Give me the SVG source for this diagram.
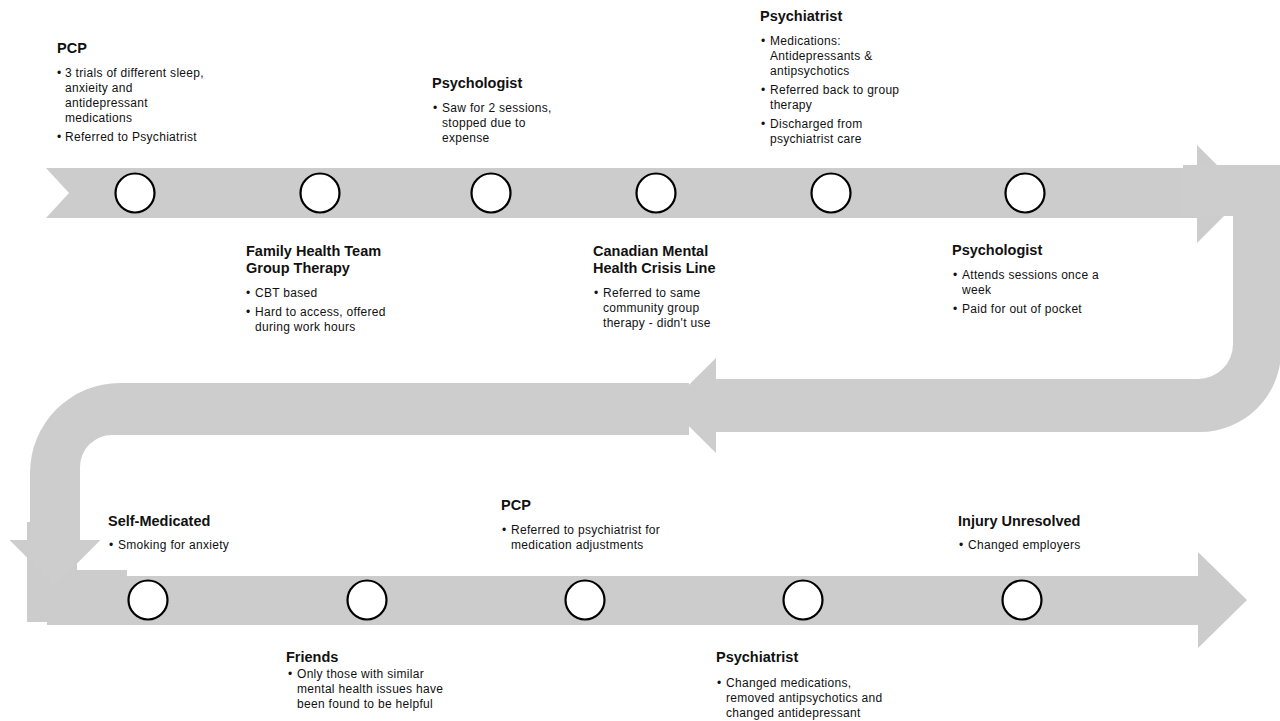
<svg xmlns="http://www.w3.org/2000/svg" width="1280" height="721" viewBox="0 0 1280 721">
  <style>
    .band { fill: #cccccc; }
    .turn { fill: #cecdce; }
    .dot { fill: #ffffff; stroke: #000000; stroke-width: 2.2; }
    .ttl { font-family: "Liberation Sans", Arial, sans-serif; font-size: 14.5px; font-weight: bold; fill: #111111; }
    .txt { font-family: "Liberation Sans", Arial, sans-serif; font-size: 12px; letter-spacing: 0.3px; fill: #111111; }
  </style>
  <rect width="1280" height="721" fill="#ffffff"/>

  <!-- timeline bands (connectors between events) -->
  <g id="connectors">
    <polygon class="band" points="46,168 1197,168 1197,145 1246,194 1197,243 1197,218 46,218 69,193"/>
    <path class="turn" d="M1183,165 H1281 V351 A81,81 0 0 1 1200,432 H716 V453 L668,405.5 L716,358 V379 H1198 A35,35 0 0 0 1233,344 V216 H1183 Z"/>
    <path class="band" d="M27,522 H77 V570 H127 V576 H1198 V552 L1247,600 L1198,648 V625 H47 V622 H27 Z"/>
    <path class="turn" d="M689,383 H120 A90,90 0 0 0 30,473 V540 H9.5 L55,585.5 L100.5,540 H80 V467 A32,32 0 0 1 112,435 H689 Z"/>
  </g>

  <!-- top row events -->
  <g id="pcp-1">
    <circle class="dot" cx="135" cy="193" r="19.5"/>
    <text class="ttl" x="57" y="53">PCP</text>
    <text class="txt"><tspan x="57" y="77">•</tspan><tspan x="65" y="77">3 trials of different sleep,</tspan><tspan x="65" y="92">anxieity and</tspan><tspan x="65" y="107">antidepressant</tspan><tspan x="65" y="122">medications</tspan><tspan x="57" y="141">•</tspan><tspan x="65" y="141">Referred to Psychiatrist</tspan></text>
  </g>

  <g id="family-health-team">
    <circle class="dot" cx="320" cy="193" r="19.5"/>
    <text class="ttl"><tspan x="246" y="256">Family Health Team</tspan><tspan x="246" y="273">Group Therapy</tspan></text>
    <text class="txt"><tspan x="246" y="297">•</tspan><tspan x="255" y="297">CBT based</tspan><tspan x="246" y="316">•</tspan><tspan x="255" y="316">Hard to access, offered</tspan><tspan x="255" y="331">during work hours</tspan></text>
  </g>

  <g id="psychologist-1">
    <circle class="dot" cx="491" cy="193" r="19.5"/>
    <text class="ttl" x="432" y="88">Psychologist</text>
    <text class="txt"><tspan x="433" y="112">•</tspan><tspan x="442" y="112">Saw for 2 sessions,</tspan><tspan x="442" y="127">stopped due to</tspan><tspan x="442" y="142">expense</tspan></text>
  </g>

  <g id="crisis-line">
    <circle class="dot" cx="656" cy="193" r="19.5"/>
    <text class="ttl"><tspan x="593" y="256">Canadian Mental</tspan><tspan x="593" y="273">Health Crisis Line</tspan></text>
    <text class="txt"><tspan x="594" y="297">•</tspan><tspan x="603" y="297">Referred to same</tspan><tspan x="603" y="312">community group</tspan><tspan x="603" y="327">therapy - didn't use</tspan></text>
  </g>

  <g id="psychiatrist-1">
    <circle class="dot" cx="831" cy="193" r="19.5"/>
    <text class="ttl" x="760" y="21">Psychiatrist</text>
    <text class="txt"><tspan x="761" y="45">•</tspan><tspan x="770" y="45">Medications:</tspan><tspan x="770" y="60">Antidepressants &amp;</tspan><tspan x="770" y="75">antipsychotics</tspan><tspan x="761" y="94">•</tspan><tspan x="770" y="94">Referred back to group</tspan><tspan x="770" y="109">therapy</tspan><tspan x="761" y="128">•</tspan><tspan x="770" y="128">Discharged from</tspan><tspan x="770" y="143">psychiatrist care</tspan></text>
  </g>

  <g id="psychologist-2">
    <circle class="dot" cx="1025" cy="193" r="19.5"/>
    <text class="ttl" x="952" y="255">Psychologist</text>
    <text class="txt"><tspan x="953" y="279">•</tspan><tspan x="962" y="279">Attends sessions once a</tspan><tspan x="962" y="294">week</tspan><tspan x="953" y="313">•</tspan><tspan x="962" y="313">Paid for out of pocket</tspan></text>
  </g>

  <!-- bottom row events -->
  <g id="self-medicated">
    <circle class="dot" cx="148" cy="600" r="19.5"/>
    <text class="ttl" x="108" y="526">Self-Medicated</text>
    <text class="txt"><tspan x="109" y="549">•</tspan><tspan x="118" y="549">Smoking for anxiety</tspan></text>
  </g>

  <g id="friends">
    <circle class="dot" cx="367" cy="600" r="19.5"/>
    <text class="ttl" x="286" y="662">Friends</text>
    <text class="txt"><tspan x="288" y="678">•</tspan><tspan x="297" y="678">Only those with similar</tspan><tspan x="297" y="693">mental health issues have</tspan><tspan x="297" y="708">been found to be helpful</tspan></text>
  </g>

  <g id="pcp-2">
    <circle class="dot" cx="585" cy="600" r="19.5"/>
    <text class="ttl" x="501" y="510">PCP</text>
    <text class="txt"><tspan x="502" y="534">•</tspan><tspan x="511" y="534">Referred to psychiatrist for</tspan><tspan x="511" y="549">medication adjustments</tspan></text>
  </g>

  <g id="psychiatrist-2">
    <circle class="dot" cx="803" cy="600" r="19.5"/>
    <text class="ttl" x="716" y="662">Psychiatrist</text>
    <text class="txt"><tspan x="717" y="687">•</tspan><tspan x="726" y="687">Changed medications,</tspan><tspan x="726" y="702">removed antipsychotics and</tspan><tspan x="726" y="717">changed antidepressant</tspan></text>
  </g>

  <g id="injury-unresolved">
    <circle class="dot" cx="1022" cy="600" r="19.5"/>
    <text class="ttl" x="958" y="526">Injury Unresolved</text>
    <text class="txt"><tspan x="959" y="549">•</tspan><tspan x="968" y="549">Changed employers</tspan></text>
  </g>
</svg>
